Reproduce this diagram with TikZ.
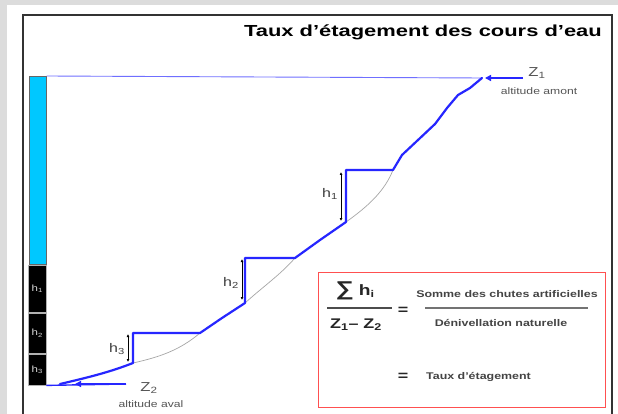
\documentclass[tikz,border=0pt]{standalone}
\usepackage{fontspec}
\setmainfont{Liberation Sans}
\newfontfamily\wfont[FakeStretch=1.28]{Liberation Sans}
\newfontfamily\tfont[FakeStretch=1.37]{Liberation Sans}
\usetikzlibrary{arrows.meta}
\definecolor{bggray}{HTML}{DCDCDC}
\definecolor{frame}{HTML}{333333}
\definecolor{riverblue}{HTML}{2626FF}
\definecolor{lightblue}{HTML}{6F6FFF}
\definecolor{barcyan}{HTML}{00C8FF}
\definecolor{boxred}{HTML}{FF5050}
\definecolor{txtgray}{HTML}{555555}
\tikzset{
  river/.style={draw=riverblue, line width=2.2pt, line join=round, line cap=round},
  natural/.style={draw=gray!70, line width=0.7pt},
  harrow/.style={draw=black, line width=0.6pt, {Latex[length=3pt,width=3pt]}-{Latex[length=3pt,width=3pt]}},
  hlabel/.style={font=\wfont\fontsize{12.5}{12.5}\selectfont, text=black!75, inner sep=0pt},
  hbox/.style={fill=black, draw=gray!60, line width=0.4pt},
  boxlabel/.style={font=\wfont\fontsize{9}{9}\selectfont, text=white!85!black, inner sep=0pt},
  zlabel/.style={font=\wfont\fontsize{13}{13}\selectfont, text=txtgray, inner sep=0pt},
  smalltxt/.style={font=\wfont\fontsize{9.5}{9.5}\selectfont, text=txtgray, inner sep=0pt},
  formtxt/.style={font=\wfont\bfseries\fontsize{9.7}{9.7}\selectfont, text=txtgray!80!black, inner sep=0pt},
  bigform/.style={font=\wfont\bfseries\fontsize{14}{14}\selectfont, text=black!85, inner sep=0pt},
  levelarrow/.style={draw=riverblue, line width=1.4pt, -{Triangle[length=6pt,width=6pt]}},
}
\begin{document}
\begin{tikzpicture}[x=1pt,y=-1pt]
\useasboundingbox (0,0) rectangle (618,414);
\fill[bggray] (0,0) rectangle (618,414);
\fill[white] (7,5) rectangle (618,414);
% frame
\draw[frame, line width=2.4pt] (23,420) -- (23,15) -- (612,15) -- (612,420);
% title
\node[anchor=east, font=\tfont\bfseries\fontsize{16}{16}\selectfont, inner sep=0pt] (title) at (602,32) {Taux d’étagement des cours d’eau};
% bar
\node[draw=black!60, fill=barcyan, line width=0.6pt, minimum width=17pt, minimum height=188pt, inner sep=0pt, anchor=north west] (cyanbar) at (29,76) {};
\node[hbox, minimum width=18pt, minimum height=47pt, inner sep=0pt, anchor=north west] (b1) at (28,265) {};
\node[hbox, minimum width=18pt, minimum height=40pt, inner sep=0pt, anchor=north west] (b2) at (28,313) {};
\node[hbox, minimum width=18pt, minimum height=31pt, inner sep=0pt, anchor=north west] (b3) at (28,354) {};
\node[boxlabel] (lb1) at (b1.center) {h\textsubscript{1}};
\node[boxlabel] (lb2) at (b2.center) {h\textsubscript{2}};
\node[boxlabel] (lb3) at (b3.center) {h\textsubscript{3}};
% profile points
\coordinate (p0) at (60,384);
\coordinate (a3) at (133,363);
\coordinate (t3) at (133,333);
\coordinate (e3) at (200,333);
\coordinate (a2) at (245,303);
\coordinate (t2) at (245,258);
\coordinate (e2) at (295,258);
\coordinate (a1) at (346,222);
\coordinate (t1) at (346,170);
\coordinate (e1) at (393,170);
\coordinate (top) at (482,78);
% levels
\draw[lightblue, line width=0.9pt] (cyanbar.north east) -- (top);
\coordinate (zs1) at (523,78);
\coordinate (zt1) at (485,78);
\draw[levelarrow] (zs1) -- (zt1);
\coordinate (zs2) at (126,384);
\coordinate (zt2) at (75,384);
\draw[riverblue, line width=1.4pt] (b3.south east) -- (zs2);
\draw[levelarrow] (zs2) -- (zt2);
% natural profile
\draw[natural] (a3) .. controls (160,357) and (180,350) .. (e3);
\draw[natural] (a2) .. controls (265,285) and (280,275) .. (e2);
\draw[natural] (a1) .. controls (370,205) and (385,190) .. (e1);
% river
\draw[river] (p0) .. controls (90,377) and (110,372) .. (a3) -- (t3) -- (e3) -- (222,318) -- (a2) -- (t2) -- (e2) -- (320,240) -- (a1) -- (t1) -- (e1) -- (402,155) -- (418,140) -- (435,124) -- (447,108) -- (458,95) -- (470,88) -- (top);
% h arrows
\coordinate (h3s) at (128,334);
\coordinate (h3e) at (128,362);
\coordinate (h2s) at (242,259);
\coordinate (h2e) at (242,300);
\coordinate (h1s) at (341,172);
\coordinate (h1e) at (341,221);
\draw[harrow] (h3s) -- (h3e);
\draw[harrow] (h2s) -- (h2e);
\draw[harrow] (h1s) -- (h1e);
\node[hlabel] (hl3) at (117,349) {h\textsubscript{3}};
\node[hlabel] (hl2) at (231,283) {h\textsubscript{2}};
\node[hlabel] (hl1) at (330,194) {h\textsubscript{1}};
% Z labels
\node[zlabel] (z1) at (537,73) {Z\textsubscript{1}};
\node[smalltxt] (am) at (539,91) {altitude amont};
\node[zlabel] (z2) at (149,388) {Z\textsubscript{2}};
\node[smalltxt] (av) at (151,404) {altitude aval};
% formula box
\node[draw=boxred, line width=1.3pt, minimum width=287pt, minimum height=135pt, inner sep=0pt, anchor=north west] (fbox) at (318,272) {};
\node[bigform] (num1) at (355,291) {{\fontsize{20}{20}\selectfont ∑}\hspace{5pt}{\fontsize{15}{15}\selectfont h}\textsubscript{i}};
\node[bigform] (den1) at (356,325) {Z\textsubscript{1}– Z\textsubscript{2}};
\coordinate (b1s) at (327,308);
\coordinate (b1e) at (392,308);
\draw[black!70, line width=1.3pt] (b1s) -- (b1e);
\node[bigform] (eq1) at (403,311) {=};
\node[formtxt] (num2) at (507,294) {Somme des chutes artificielles};
\node[formtxt] (den2) at (501,323) {Dénivellation naturelle};
\coordinate (b2s) at (425,308);
\coordinate (b2e) at (588,308);
\draw[black!55, line width=1.3pt] (b2s) -- (b2e);
\node[bigform] (eq2) at (403,377) {=};
\node[formtxt, anchor=west] (taux) at (426,377) {Taux d’étagement};
\end{tikzpicture}
\end{document}
